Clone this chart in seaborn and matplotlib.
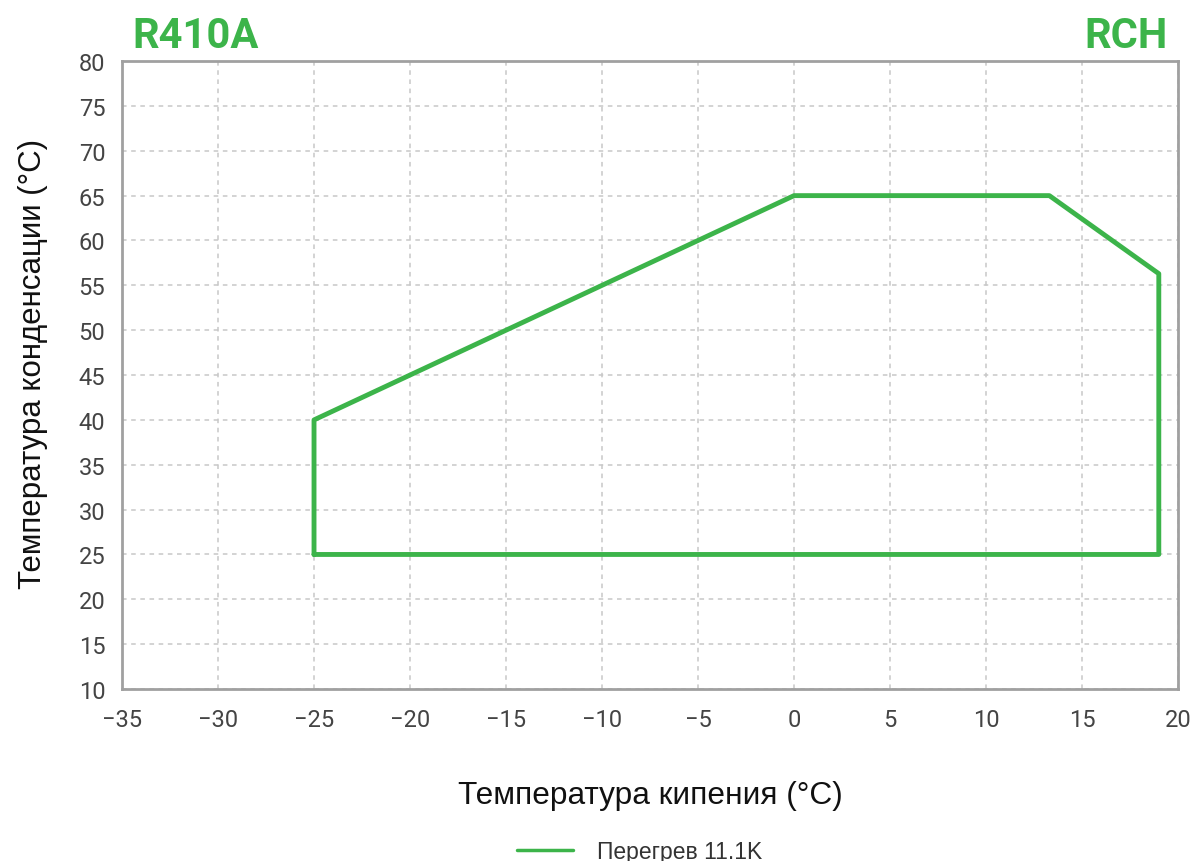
import matplotlib
matplotlib.use("Agg")
import matplotlib.pyplot as plt
import seaborn as sns
import pandas as pd

# Data
evap_temp = [-25, -25, 0, 13.3, 19, 19, -25]
cond_temp = [25, 40, 65, 65, 56.3, 25, 25]
series_label = "Перегрев 11.1K"
x_ticks = list(range(-35, 21, 5))
y_ticks = list(range(10, 81, 5))

sns.set_theme(style="white")
plt.rcParams['font.family'] = ['Roboto', 'DejaVu Sans']

green = "#3cb44a"
gray_text = "#444444"
label_font = ['Liberation Sans', 'DejaVu Sans']

fig = plt.figure(figsize=(11.94, 8.62), dpi=100)
ax = fig.add_axes([0.1022, 0.1995, 0.8844, 0.7285])

df = pd.DataFrame({"x": evap_temp, "y": cond_temp})
sns.lineplot(data=df, x="x", y="y", sort=False, estimator=None, ax=ax,
             color=green, linewidth=3.5, label=series_label)

ax.set_xlim(-35, 20)
ax.set_ylim(10, 80)
ax.set_xticks(x_ticks)
ax.set_yticks(y_ticks)
ax.set_xticklabels([f"\u2212{abs(t)}" if t < 0 else str(t) for t in x_ticks])
ax.tick_params(axis="both", length=0, labelsize=17, colors=gray_text)
ax.tick_params(axis="x", pad=14)
ax.tick_params(axis="y", pad=12)
ax.grid(True, linestyle=(0, (3, 3)), color="#c8c8c8", linewidth=1.1)
for s in ax.spines.values():
    s.set_color("#a0a0a0")
    s.set_linewidth(2)

ax.set_xlabel("Температура кипения (°C)", fontsize=22.8, color="#111111",
              labelpad=35, family=label_font)
ax.set_ylabel("Температура конденсации (°C)", fontsize=22.5, color="#111111",
              labelpad=22, family=label_font)
ax.yaxis.label.set_y(0.519)

fig.text(0.111, 0.958, "R410A", fontsize=30, fontweight="bold", color=green,
         ha="left", va="center")
fig.text(0.978, 0.958, "RCH", fontsize=30, fontweight="bold", color=green,
         ha="right", va="center")

leg = ax.legend(loc="center", bbox_to_anchor=(0.4905, -0.258), frameon=False,
                prop={"family": label_font, "size": 16.5},
                handlelength=2.45, handletextpad=1.05)
for t in leg.get_texts():
    t.set_color("#333333")
for h in leg.get_lines():
    h.set_linewidth(2.5)

fig.savefig("out.png", dpi=100)
